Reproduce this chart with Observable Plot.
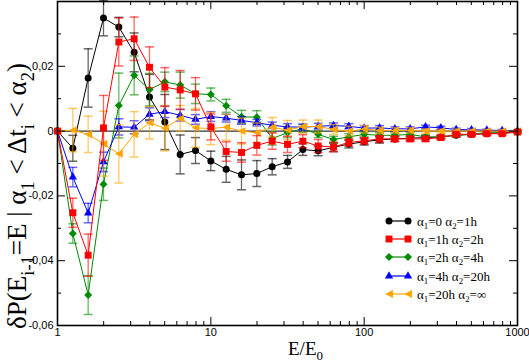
<!DOCTYPE html>
<html><head><meta charset="utf-8">
<script src="https://cdn.jsdelivr.net/npm/d3@7"></script>
<script src="https://cdn.jsdelivr.net/npm/@observablehq/plot@0.6"></script>
<style>body{margin:0;background:#fff;} #chart{position:relative;width:529px;height:363px;}</style>
</head><body><div id="chart"></div>
<script>
// E/E0 bin centres
const energy = [1, 1.259, 1.585, 1.995, 2.512, 3.162, 3.981, 5.012, 6.310, 7.943,
  10, 12.59, 15.85, 19.95, 25.12, 31.62, 39.81, 50.12, 63.10, 79.43,
  100, 125.9, 158.5, 199.5, 251.2, 316.2, 398.1, 501.2, 631.0, 794.3, 1000];

const seriesLabels = ["α1=0 α2=1h", "α1=1h α2=2h", "α1=2h α2=4h", "α1=4h α2=20h", "α1=20h α2=∞"];

const black = [0, -0.0053, 0.0164, 0.0349, 0.0321, 0.0243, 0.0105, 0.0028, -0.0072, -0.0060,
  -0.0092, -0.0118, -0.0135, -0.0131, -0.0110, -0.0095, -0.0057, -0.0061, -0.0050, -0.0040,
  -0.0033, -0.0027, -0.0024, -0.0022, -0.0020, -0.0018, -0.0013, -0.0010, -0.0008, -0.0005, -0.0002];
const blackErr = [0, 0.004, 0.009, 0.0055, 0.003, 0.006, 0.007, 0.0085, 0.006, 0.004,
  0.003, 0.004, 0.0046, 0.004, 0.0025, 0.002, 0.0018, 0.0015, 0.0013, 0.0012,
  0.001, 0.001, 0.0008, 0.0007, 0.0006, 0.0005, 0.0005, 0.0004, 0.0004, 0.0003, 0.0003];

const red = [0, -0.0252, -0.0383, 0.0010, 0.0275, 0.0285, 0.0197, 0.0136, 0.0127, 0.0115,
  0.0013, -0.0063, -0.0066, -0.0044, -0.0031, -0.0041, -0.0031, -0.0046, -0.0049, -0.0035,
  -0.0030, -0.0024, -0.0024, -0.0024, -0.0024, -0.0020, -0.0010, -0.0010, -0.0008, -0.0008, -0.0003];
const redErr = [0, 0.0045, 0.0065, 0.010, 0.0074, 0.0067, 0.0063, 0.006, 0.006, 0.005,
  0.004, 0.003, 0.003, 0.003, 0.0025, 0.0025, 0.002, 0.002, 0.0015, 0.0012,
  0.001, 0.001, 0.0008, 0.0008, 0.0007, 0.0006, 0.0005, 0.0005, 0.0004, 0.0004, 0.0003];

const green = [0, -0.0316, -0.0506, -0.0164, 0.0079, 0.0172, 0.0128, 0.0152, 0.0142, 0.0115,
  0.0113, 0.0078, 0.0044, 0.0043, -0.0023, -0.0005, 0.0008, -0.0010, -0.0026, -0.0018,
  -0.0010, -0.0013, -0.0013, -0.0010, -0.0018, -0.0018, -0.0012, -0.0010, -0.0004, -0.0003, 0];
const greenErr = [0, 0.003, 0.006, 0.005, 0.010, 0.006, 0.005, 0.003, 0.004, 0.003,
  0.002, 0.002, 0.002, 0.002, 0.002, 0.0015, 0.0012, 0.001, 0.001, 0.001,
  0.0008, 0.0008, 0.0007, 0.0007, 0.0006, 0.0005, 0.0005, 0.0004, 0.0004, 0.0003, 0.0003];

const blue = [0, -0.0142, -0.0253, -0.0095, 0.0013, 0.0012, 0.0052, 0.0060, 0.0049, 0.0036,
  0.0045, 0.0040, 0.0033, 0.0026, 0.0018, 0.0013, 0.0012, 0.0015, 0.0017, 0.0015,
  0.0009, 0.0010, 0.0007, 0.0007, 0.0013, 0.0010, 0.0005, 0.0004, 0.0003, 0.0002, 0];
const blueErr = [0, 0.003, 0.003, 0.003, 0.0025, 0.002, 0.002, 0.0018, 0.0018, 0.0015,
  0.0015, 0.0012, 0.0012, 0.001, 0.001, 0.001, 0.001, 0.0009, 0.0008, 0.0008,
  0.0007, 0.0007, 0.0006, 0.0006, 0.0005, 0.0005, 0.0004, 0.0004, 0.0003, 0.0003, 0.0003];

const orange = [0, 0.0003, -0.0010, -0.0039, -0.0070, -0.0010, 0.0026, 0.0009, 0.0039, 0.0010,
  0.0008, 0.0012, 0, -0.0005, 0.0012, 0.0003, 0.0014, 0.0014, 0.0005, 0,
  0.0006, 0.0002, 0.0002, 0.0002, 0, 0, 0, 0, 0, 0, 0];
const orangeErr = [0, 0.0067, 0.0056, 0.010, 0.009, 0.007, 0.005, 0.007, 0.004, 0.006,
  0.005, 0.004, 0.004, 0.003, 0.003, 0.003, 0.002, 0.002, 0.0015, 0.0015,
  0.0012, 0.001, 0.0008, 0.0008, 0.0007, 0.0006, 0.0006, 0.0005, 0.0005, 0.0004, 0.0004];

// axis ticks
const xMajor = [1, 10, 100, 1000];
const xMinor = [2,3,4,5,6,7,8,9,20,30,40,50,60,70,80,90,200,300,400,500,600,700,800,900];
const yMajor = [-0.06, -0.04, -0.02, 0, 0.02, 0.04];
const yMinor = [-0.05, -0.03, -0.01, 0.01, 0.03];
const yLabels = [-0.06, -0.04, -0.02, 0, 0.02];

const triLeft = {draw(ctx, size) { const s = Math.sqrt(size) * 0.6; ctx.moveTo(-s, 0); ctx.lineTo(s, -s); ctx.lineTo(s, s); ctx.closePath(); }};
const capSym = {draw(ctx) { ctx.moveTo(-4.5, 0); ctx.lineTo(4.5, 0); }};

const series = [
  {name: seriesLabels[0], v: black, e: blackErr, color: "#000000", bar: "#000000", symbol: "circle", r: 3.5},
  {name: seriesLabels[1], v: red, e: redErr, color: "#ff0000", bar: "#ff0000", symbol: "square", r: 3.9},
  {name: seriesLabels[2], v: green, e: greenErr, color: "#008b00", bar: "#008b00", symbol: "diamond2", r: 3.6},
  {name: seriesLabels[3], v: blue, e: blueErr, color: "#0000ff", bar: "#0000ff", symbol: "triangle", r: 3.1},
  {name: seriesLabels[4], v: orange, e: orangeErr, color: "#ffa500", bar: "#ffa500", symbol: triLeft, r: 3.7}
];

const W = 529, H = 363, mL = 57, mR = 12, mT = 1, mB = 38;
const pw = W - mL - mR, ph = H - mT - mB;

const marks = [
  Plot.ruleY([0], {stroke: "#000", strokeWidth: 1}),
];
const drawOrder = [0, 2, 3, 4, 1];
for (const i of drawOrder) {
  const s = series[i];
  const rows = energy.map((E, k) => ({E, v: s.v[k], e: s.e[k]}));
  const withErr = rows.filter(d => d.e > 0);
  marks.push(
    Plot.ruleX(withErr, {x: "E", y1: d => d.v - d.e, y2: d => d.v + d.e, stroke: s.bar, strokeOpacity: 0.6, strokeWidth: 1.3}),
    Plot.dot(withErr, {x: "E", y: d => d.v - d.e, symbol: capSym, fill: "none", stroke: s.bar, strokeOpacity: 0.6, strokeWidth: 1.5}),
    Plot.dot(withErr, {x: "E", y: d => d.v + d.e, symbol: capSym, fill: "none", stroke: s.bar, strokeOpacity: 0.6, strokeWidth: 1.5}),
    Plot.line(rows, {x: "E", y: "v", stroke: s.color, strokeWidth: 1}),
    Plot.dot(rows, {x: "E", y: "v", symbol: s.symbol, r: s.r, fill: s.color, stroke: "none"})
  );
}
marks.push(
  Plot.tickX(xMajor, {x: d => d, insetTop: ph - 8, stroke: "#000", strokeWidth: 1}),
  Plot.tickX(xMajor, {x: d => d, insetBottom: ph - 8, stroke: "#000", strokeWidth: 1}),
  Plot.tickX(xMinor, {x: d => d, insetTop: ph - 4, stroke: "#000", strokeWidth: 1}),
  Plot.tickX(xMinor, {x: d => d, insetBottom: ph - 4, stroke: "#000", strokeWidth: 1}),
  Plot.tickY(yMajor, {y: d => d, insetRight: pw - 8, stroke: "#000", strokeWidth: 1}),
  Plot.tickY(yMajor, {y: d => d, insetLeft: pw - 8, stroke: "#000", strokeWidth: 1}),
  Plot.tickY(yMinor, {y: d => d, insetRight: pw - 4, stroke: "#000", strokeWidth: 1}),
  Plot.tickY(yMinor, {y: d => d, insetLeft: pw - 4, stroke: "#000", strokeWidth: 1}),
  Plot.frame({stroke: "#000", strokeWidth: 1.6}),
  Plot.axisX(xMajor, {tickSize: 0, tickPadding: 3, tickFormat: d => String(d), label: null, fontSize: 11, fontFamily: "Liberation Sans, Arial, sans-serif", fill: "#000"}),
  Plot.axisY(yLabels, {tickSize: 0, tickPadding: 4, tickFormat: d => d === 0 ? "0" : d.toFixed(2).replace(".", ",").replace("−", "-"), label: null, fontSize: 11, fontFamily: "Liberation Sans, Arial, sans-serif", fill: "#000"})
);

const chart = Plot.plot({
  width: W, height: H,
  marginLeft: mL, marginRight: mR, marginTop: mT, marginBottom: mB,
  x: {type: "log", domain: [1, 1000], label: null},
  y: {domain: [-0.06, 0.04], label: null},
  style: {background: "#fff", color: "#000"},
  marks
});
document.getElementById("chart").appendChild(chart);

const svg = d3.select(chart);
const serif = "Liberation Serif, Times New Roman, serif";

function rich(sel, parts, size) {
  let shifted = false;
  const sh = size * 0.28;
  for (const [t, kind] of parts) {
    const ts = sel.append("tspan").text(t);
    if (kind === "sub") {
      ts.attr("font-size", size * 0.68).attr("dy", shifted ? 0 : sh);
      shifted = true;
    } else {
      ts.attr("font-size", size).attr("dy", shifted ? -sh : 0);
      shifted = false;
    }
  }
}
function alphaParts(label) {
  const parts = [];
  const re = /α(\d)/g;
  let last = 0, m;
  while ((m = re.exec(label))) {
    parts.push([label.slice(last, m.index) + "α", "n"]);
    parts.push([m[1], "sub"]);
    last = m.index + m[0].length;
  }
  parts.push([label.slice(last), "n"]);
  return parts;
}

// y label
const ySize = 27;
const yl = svg.append("text").attr("font-family", serif).attr("fill", "#000")
  .attr("text-anchor", "middle")
  .attr("transform", `translate(26,196) rotate(-90)`);
rich(yl, [["δP(E", "n"], ["i-1", "sub"], ["=E | α", "n"], ["1", "sub"], [" < Δt", "n"], ["i", "sub"], [" < α", "n"], ["2", "sub"], [")", "n"]], ySize);

// x label
const xl = svg.append("text").attr("font-family", serif).attr("fill", "#000")
  .attr("text-anchor", "start").attr("x", 288).attr("y", 355);
rich(xl, [["E/E", "n"], ["0", "sub"]], 19);

// legend
const lg = svg.append("g");
const rowY = [221, 239, 257, 276, 294];
series.forEach((s, i) => {
  const y = rowY[i];
  lg.append("line").attr("x1", 389).attr("x2", 408).attr("y1", y).attr("y2", y).attr("stroke", s.color).attr("stroke-width", 1.2);
  const sym = typeof s.symbol === "string" ? {circle: d3.symbolCircle, square: d3.symbolSquare, diamond2: d3.symbolDiamond2, triangle: d3.symbolTriangle}[s.symbol] : s.symbol;
  const p = d3.symbol(sym, Math.PI * s.r * s.r)();
  for (const x of [389, 408]) lg.append("path").attr("d", p).attr("transform", `translate(${x},${y})`).attr("fill", s.color);
  const t = lg.append("text").attr("x", 417).attr("y", y + 4.5).attr("font-family", serif).attr("fill", "#000").attr("text-anchor", "start");
  rich(t, alphaParts(s.name), 13);
});
</script>
</body></html>
